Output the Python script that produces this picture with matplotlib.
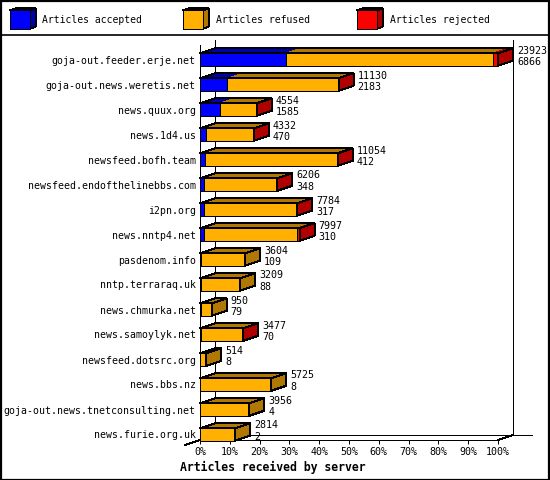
import matplotlib
matplotlib.use('Agg')
import matplotlib.pyplot as plt
from matplotlib.patches import Polygon, Rectangle
from matplotlib.lines import Line2D

servers = ["goja-out.feeder.erje.net", "goja-out.news.weretis.net", "news.quux.org",
           "news.1d4.us", "newsfeed.bofh.team", "newsfeed.endofthelinebbs.com",
           "i2pn.org", "news.nntp4.net", "pasdenom.info", "nntp.terraraq.uk",
           "news.chmurka.net", "news.samoylyk.net", "newsfeed.dotsrc.org",
           "news.bbs.nz", "goja-out.news.tnetconsulting.net", "news.furie.org.uk"]
offered = [23923, 11130, 4554, 4332, 11054, 6206, 7784, 7997, 3604, 3209, 950, 3477, 514, 5725, 3956, 2814]
accepted = [6866, 2183, 1585, 470, 412, 348, 317, 310, 109, 88, 79, 70, 8, 8, 4, 2]
rejected = [400, 40, 20, 30, 40, 20, 30, 210, 0, 0, 0, 20, 0, 0, 0, 0]
xticks = list(range(0, 101, 10))
xticklabels = [f"{t}%" for t in xticks]

series_names = ["Articles accepted", "Articles refused", "Articles rejected"]
front_cols = ["#0000FF", "#FFB000", "#FF0000"]
dark_cols = ["#0000B0", "#B07800", "#B00000"]

FONT = "DejaVu Sans Mono"
W, H = 550, 480
fig = plt.figure(figsize=(5.5, 4.8), dpi=100)

def fx(px):
    return px / W

def fy(py):
    return 1 - py / H

# axes geometry in pixels
L, R, T, B = 200, 498, 45, 440
ax = fig.add_axes([fx(L), fy(B), fx(R) - fx(L), (B - T) / H])
ymin_val = (B - 59.5) / 25.0
ymax_val = (T - 59.5) / 25.0
ax.set_xlim(0, 100)
ax.set_ylim(ymin_val, ymax_val)

# depth in data units
DX = 15 / (R - L) * 100
DY = 5 / 25.0
HH = 0.25  # half height of the front face

scale = 100.0 / max(offered)
n = len(servers)

LW = 0.72
AA = False
# back wall / floor lines
top_back = (40 - 59.5) / 25.0
floor_back = ymin_val - DY
for xs, ys in [([DX, DX], [top_back, floor_back]),
               ([100 + DX, 100 + DX], [top_back, floor_back]),
               ([DX, (532 - L) / (R - L) * 100], [floor_back, floor_back]),
               ([100, 100 + DX], [ymin_val, floor_back]),
               ([-DX, DX], [ymin_val + DY, floor_back])]:
    ax.add_line(Line2D(xs, ys, color='black', lw=LW, zorder=1, clip_on=False, antialiased=AA))

for i in range(n):
    refused = offered[i] - accepted[i] - rejected[i]
    vals = [accepted[i], refused, rejected[i]]
    left = 0.0
    last_k = 0
    yf_top = i - HH
    yf_bot = i + HH
    for k, v in enumerate(vals):
        if v <= 0:
            continue
        w = v * scale
        ax.add_patch(Polygon([(left, yf_top), (left + w, yf_top), (left + w + DX, yf_top - DY), (left + DX, yf_top - DY)],
                             closed=True, facecolor=dark_cols[k], edgecolor='none', zorder=3, clip_on=False,
                             antialiased=AA))
        ax.add_patch(Rectangle((left, yf_top), w, 2 * HH, facecolor=front_cols[k], edgecolor='black',
                               lw=LW, zorder=4, clip_on=False, antialiased=AA))
        left += w
        last_k = k
    end = left
    ax.add_patch(Polygon([(0, yf_top), (end, yf_top), (end + DX, yf_top - DY), (DX, yf_top - DY)],
                         closed=True, facecolor='none', edgecolor='black', lw=LW, zorder=5, clip_on=False,
                         antialiased=AA))
    ax.add_patch(Polygon([(end, yf_top), (end + DX, yf_top - DY), (end + DX, yf_bot - DY), (end, yf_bot)],
                         closed=True, facecolor=dark_cols[last_k], edgecolor='black', lw=LW, zorder=5, clip_on=False,
                         antialiased=AA))
    tx = end + DX + 4 / (R - L) * 100
    ax.text(tx, i - 0.36, str(offered[i]), fontsize=7.2, family=FONT, ha='left', va='center', zorder=6, clip_on=False)
    ax.text(tx, i + 0.10, str(accepted[i]), fontsize=7.2, family=FONT, ha='left', va='center', zorder=6, clip_on=False)

for s in ['top', 'right']:
    ax.spines[s].set_visible(False)
for s in ['left', 'bottom']:
    ax.spines[s].set_linewidth(LW)
    ax.spines[s].set_zorder(2)
    ax.spines[s].set_antialiased(AA)
ax.spines['bottom'].set_bounds(0, 100)
ax.set_facecolor('none')

ax.set_xticks(xticks)
ax.set_xticklabels(xticklabels, family=FONT, fontsize=7.2)
ax.set_yticks(range(n))
ax.set_yticklabels(servers, family=FONT, fontsize=7.15)
ax.tick_params(axis='y', length=0, pad=3)
ax.tick_params(axis='x', length=3.2, width=LW, pad=1.5, direction='out')

fig.text(fx(180), fy(467), "Articles received by server", family=FONT, fontweight='bold',
         fontsize=8.3, ha='left', va='center')

# legend
leg_icon_x = [10, 183, 357]
leg_text_x = [42, 216, 390]
for k in range(3):
    x0 = leg_icon_x[k]
    x1 = x0 + 20
    y0, y1 = 10.3, 28.7
    ddx, ddy = 5.7, 2.0
    fig.add_artist(Polygon([(fx(x0), fy(y0)), (fx(x1), fy(y0)), (fx(x1 + ddx), fy(y0 - ddy)), (fx(x0 + ddx), fy(y0 - ddy))],
                           closed=True, facecolor=dark_cols[k], edgecolor='black', lw=LW, transform=fig.transFigure,
                           antialiased=AA))
    fig.add_artist(Polygon([(fx(x1), fy(y0)), (fx(x1 + ddx), fy(y0 - ddy)), (fx(x1 + ddx), fy(y1 - ddy)), (fx(x1), fy(y1))],
                           closed=True, facecolor=dark_cols[k], edgecolor='black', lw=LW, transform=fig.transFigure,
                           antialiased=AA))
    fig.add_artist(Rectangle((fx(x0), fy(y1)), fx(x1) - fx(x0), (y1 - y0) / H, facecolor=front_cols[k],
                             edgecolor='black', lw=LW, transform=fig.transFigure, antialiased=AA))
    fig.text(fx(leg_text_x[k]), fy(20), series_names[k], family=FONT, fontsize=7.0, ha='left', va='center')

# separator and border
fig.add_artist(Line2D([0, 1], [fy(35), fy(35)], color='black', lw=1.2, transform=fig.transFigure))
fig.add_artist(Rectangle((0.001, 0.001), 0.998, 0.997, facecolor='none', edgecolor='black', lw=1.6,
                         transform=fig.transFigure))

fig.savefig("out.png", dpi=100, facecolor='white')
